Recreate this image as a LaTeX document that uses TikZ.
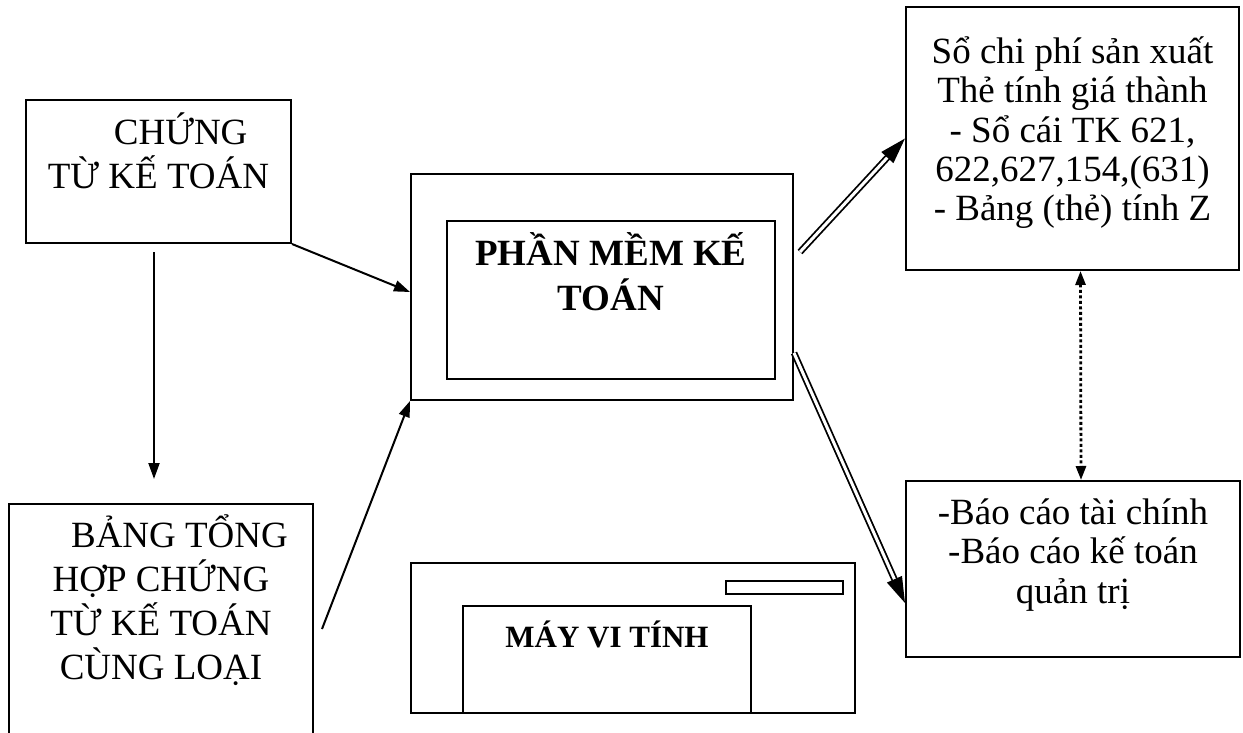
\documentclass[tikz,border=0pt]{standalone}
\usepackage{fontspec}
\setmainfont{Liberation Serif}
\usetikzlibrary{arrows.meta}

\begin{document}
\begin{tikzpicture}[x=1pt, y=-1pt, >={Triangle[length=16pt,width=11pt]},
    box/.style={draw, line width=2pt, inner sep=0pt},
    chu/.style={font=\fontsize{37}{44}\selectfont, align=center, anchor=base},
    chunho/.style={font=\fontsize{37}{39.5}\selectfont, align=center, anchor=base},
    chudam/.style={font=\fontsize{37}{45}\selectfont\bfseries, align=center, anchor=base},
    muiten/.style={->, line width=2pt},
    mtkep/.style={-{Triangle[length=26pt,width=16pt]}, double, double distance=3pt, line width=1.8pt},
    cham/.style={{Triangle[length=14pt,width=10pt]}-{Triangle[length=14pt,width=10pt]}, line width=2.8pt, dash pattern=on 3pt off 2.5pt}]

\useasboundingbox (0,0) rectangle (1243,733);

% Chứng từ kế toán
\node[box, minimum width=265pt, minimum height=143pt] (ctkt) at (158.5,171.5) {};
\node[chu] (ctkt-chu) at (158.5,189) {\hspace*{1.2em}CHỨNG\\TỪ KẾ TOÁN};

% Bảng tổng hợp chứng từ
\node[box, minimum width=304pt, minimum height=250pt] (bthct) at (161,629) {};
\node[chu] (bthct-chu) at (161,679) {\hspace*{1em}BẢNG TỔNG\\HỢP CHỨNG\\TỪ KẾ TOÁN\\CÙNG LOẠI};

% Phần mềm kế toán
\node[box, minimum width=382pt, minimum height=226pt] (pmkt) at (602,287) {};
\node[box, minimum width=328pt, minimum height=158pt] (pmkt-trong) at (611,300) {};
\node[chudam] (pmkt-chu) at (611,310) {PHẦN MỀM KẾ\\TOÁN};

% Máy vi tính
\node[box, minimum width=444pt, minimum height=150pt] (mvt) at (633,638) {};
\node[box, minimum width=117pt, minimum height=13pt] (mvt-khe) at (784.5,587.5) {};
\node[box, minimum width=288pt, minimum height=107pt] (mvt-man) at (607,659.5) {};
\node[chudam, font=\fontsize{31}{36}\selectfont\bfseries] (mvt-chu) at (607,647) {MÁY VI TÍNH};

% Sổ sách kế toán
\node[box, minimum width=333pt, minimum height=263pt] (sokt) at (1072.5,138.5) {};
\node[chunho] (sokt-chu) at (1072.5,221) {Sổ chi phí sản xuất\\Thẻ tính giá thành\\- Sổ cái TK 621,\\622,627,154,(631)\\- Bảng (thẻ) tính Z};

% Báo cáo
\node[box, minimum width=334pt, minimum height=176pt] (bc) at (1073,569) {};
\node[chunho] (bc-chu) at (1073,603) {-Báo cáo tài chính\\-Báo cáo kế toán\\quản trị};

% Mũi tên
\coordinate (xuong-dau) at (154,252);
\coordinate (xuong-cuoi) at (154,479);
\coordinate (bthct-ra) at (322,629);
\coordinate (pmkt-ra) at (800,252);
\draw[muiten] (xuong-dau) -- (xuong-cuoi);
\draw[muiten] (ctkt.south east) -- ([yshift=-5pt]pmkt.west);
\draw[muiten] (bthct-ra) -- (pmkt.south west);
\draw[mtkep] (pmkt-ra) -- (sokt.west);
\draw[mtkep] ([yshift=-66pt]pmkt.east) -- ([yshift=-34pt]bc.west);
\draw[cham] ([xshift=8pt]sokt.south) -- ([xshift=8pt]bc.north);
\end{tikzpicture}
\end{document}
